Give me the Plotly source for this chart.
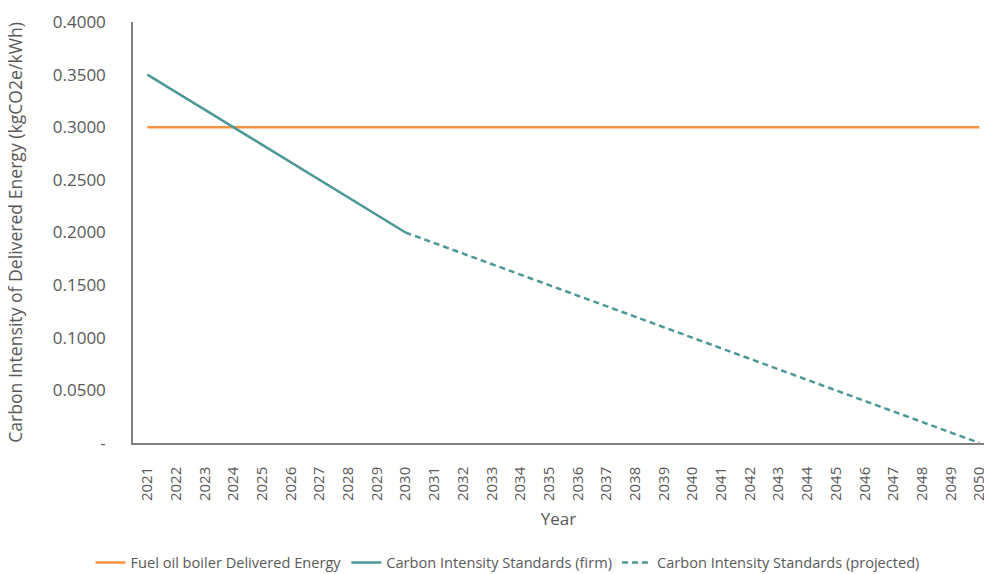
import plotly.graph_objects as go

# Years on the category axis
years = list(range(2021, 2051))

# Fuel oil boiler delivered energy (kgCO2e/kWh), flat across the period
fuel_oil = [0.30] * 30

# Carbon intensity standards, firm period 2021-2030
firm_years = list(range(2021, 2031))
firm_values = [0.3500, 0.3333, 0.3167, 0.3000, 0.2833, 0.2667, 0.2500, 0.2333, 0.2167, 0.2000]

# Carbon intensity standards, projected period 2030-2050
proj_years = list(range(2030, 2051))
proj_values = [0.20, 0.19, 0.18, 0.17, 0.16, 0.15, 0.14, 0.13, 0.12, 0.11, 0.10,
               0.09, 0.08, 0.07, 0.06, 0.05, 0.04, 0.03, 0.02, 0.01, 0.00]

# Y axis ticks
y_ticks = [0.0, 0.05, 0.10, 0.15, 0.20, 0.25, 0.30, 0.35, 0.40]
y_tick_text = ["-", "0.0500", "0.1000", "0.1500", "0.2000", "0.2500", "0.3000", "0.3500", "0.4000"]

ORANGE = "#F59340"
TEAL = "#4C9899"
TEXT = "#595959"
AXIS = "#7F7F7F"
FONT = "Open Sans"

fig = go.Figure()
fig.add_trace(go.Scatter(
    x=years, y=fuel_oil, mode="lines", name="Fuel oil boiler Delivered Energy",
    line=dict(color=ORANGE, width=2.5)))
fig.add_trace(go.Scatter(
    x=firm_years, y=firm_values, mode="lines", name="Carbon Intensity Standards (firm)",
    line=dict(color=TEAL, width=2.5)))
fig.add_trace(go.Scatter(
    x=proj_years, y=proj_values, mode="lines", name="Carbon Intensity Standards (projected)",
    line=dict(color=TEAL, width=2.5, dash="6px,4px")))

fig.update_layout(
    width=984, height=574,
    margin=dict(l=133, r=0, t=22, b=131, autoexpand=False),
    paper_bgcolor="white", plot_bgcolor="white",
    font=dict(family=FONT, color=TEXT, size=14),
    showlegend=True,
    legend=dict(orientation="h", x=0.092, xanchor="left", xref="container",
                y=0.02, yanchor="middle", yref="container",
                font=dict(size=14.6, color=TEXT), itemwidth=30, tracegroupgap=0),
    xaxis=dict(
        range=[2020.5, 2050.16], tickmode="array", tickvals=years,
        ticktext=[str(y) for y in years], tickangle=-90,
        tickfont=dict(size=15, color=TEXT), ticks="", ticklabelstandoff=16,
        ticklabeloverflow="allow", automargin=False,
        showgrid=False, zeroline=False, showline=True, linecolor=AXIS, linewidth=1.5,
        title=dict(text="Year", font=dict(size=17, color=TEXT), standoff=13),
    ),
    yaxis=dict(
        range=[0, 0.4], tickmode="array", tickvals=y_ticks, ticktext=y_tick_text,
        tickfont=dict(size=17, color=TEXT), ticks="", ticklabelstandoff=22,
        automargin=False,
        showgrid=False, zeroline=False, showline=True, linecolor=AXIS, linewidth=1.5,
        title=dict(text="Carbon Intensity of Delivered Energy (kgCO2e/kWh)",
                   font=dict(size=17.6, color=TEXT), standoff=26),
    ),
)

fig.write_html("out.html")
